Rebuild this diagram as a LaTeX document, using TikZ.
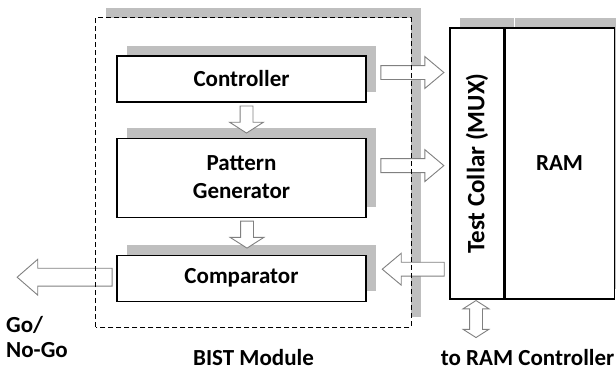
\documentclass[tikz,border=0pt]{standalone}
\usepackage{fontspec}
\setmainfont{Carlito}
\usetikzlibrary{positioning, calc, shapes.arrows, shadows}

\tikzset{
    boxshadow/.style={drop shadow={shadow xshift=9.5pt, shadow yshift=10.5pt, fill=black!25, opacity=1}},
    unitbox/.style={rectangle, draw=black, line width=1.1pt, fill=white, boxshadow, minimum width=249pt, inner sep=0pt, align=center, font=\bfseries\fontsize{23}{28}\selectfont},
    memblock/.style={rectangle, draw=black, line width=1.1pt, fill=white, boxshadow, minimum height=271pt, inner sep=0pt, font=\bfseries\fontsize{23}{28}\selectfont},
    sidearrow/.style={single arrow, anchor=tip, draw=black!50, fill=white, line width=0.9pt, inner sep=6.5pt, single arrow head extend=9pt, single arrow tip angle=80, minimum height=63pt},
    downarrow/.style={single arrow, anchor=tip, draw=black!50, fill=white, line width=0.9pt, inner sep=6pt, single arrow head extend=10.5pt, single arrow tip angle=115, minimum height=27pt, rotate=-90},
    caption/.style={inner sep=0pt, font=\bfseries\fontsize{23}{25}\selectfont}
}

\begin{document}
\begin{tikzpicture}[x=1pt, y=-1pt]
    \useasboundingbox (0,0) rectangle (616,372);

    % module outline: shadow and white area first, dashed border later
    \node[rectangle, fill=white, boxshadow, minimum width=315pt, minimum height=309pt, inner sep=0pt] (bist) at (253.5,172.5) {};

    \node[unitbox, minimum height=46pt] (ctrl) at (241.5,79) {Controller};
    \node[unitbox, minimum height=79pt, below=35pt of ctrl] (pgen) {Pattern\\Generator};
    \node[unitbox, minimum height=46pt, below=37pt of pgen] (comp) {Comparator};

    % memory side
    \node[memblock, minimum width=54pt, label={[rotate=90, font=\bfseries\fontsize{25}{28}\selectfont]center:Test Collar (MUX)}] (collar) at (477,163.5) {};
    \node[memblock, minimum width=109pt, right=0pt of collar] (ram) {RAM};

    % block arrows, placed by their tips
    \node[downarrow] (cp) at ([xshift=5pt, yshift=4pt]pgen.north) {};
    \node[downarrow] (pc) at ([xshift=5.5pt, yshift=6pt]comp.north) {};
    \node[sidearrow] (ctrlout) at ([xshift=78pt, yshift=6.5pt]ctrl.east) {};
    \node[sidearrow] (pgenout) at ([xshift=78pt, yshift=12pt]pgen.east) {};
    \node[sidearrow, rotate=180, minimum height=62pt] (compin) at ([xshift=15pt, yshift=9pt]comp.east) {};
    \node[sidearrow, rotate=180, minimum height=95pt, inner sep=8.5pt, single arrow tip angle=82] (result) at ([xshift=-100pt, yshift=1pt]comp.west) {};
    \node[double arrow, draw=black!50, fill=white, line width=0.9pt, inner sep=6pt, double arrow head extend=6.5pt, double arrow tip angle=115, minimum height=37pt, rotate=90] (ramio) at ([xshift=-1pt, yshift=-19.5pt]collar.south) {};

    \draw[line width=1pt, dash pattern=on 5pt off 3pt] (bist.south west) rectangle (bist.north east);

    % captions
    \node[caption, below=22pt of bist] (bistname) {BIST Module};
    \node[caption] (ramname) at ([xshift=23pt, yshift=-58pt]ram.south west) {to RAM Controller};
    \node[caption, align=left, anchor=west] (gonogo) at (6,337) {Go/\\No-Go};
\end{tikzpicture}
\end{document}
